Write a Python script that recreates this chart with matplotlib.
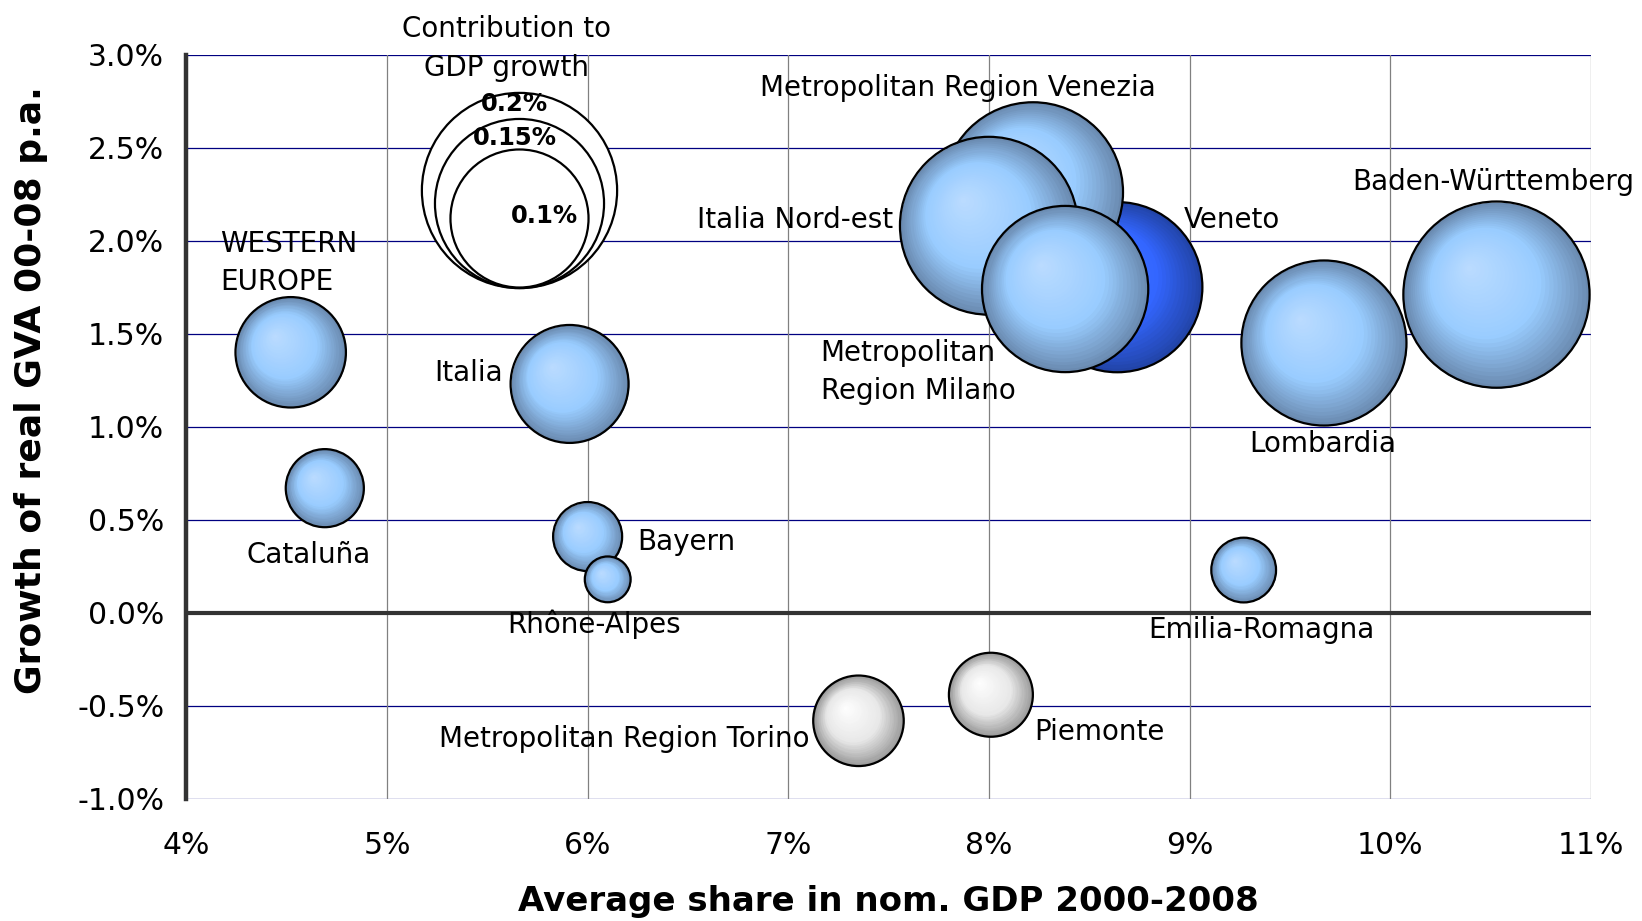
import numpy as np
import matplotlib
matplotlib.use("Agg")
import matplotlib.pyplot as plt
from matplotlib.transforms import offset_copy
from matplotlib.colors import to_rgb

# 지역별 데이터: 평균 GDP 비중(x), 실질 GVA 성장률(y), 성장 기여도(버블 크기)
regions = ["WESTERN\nEUROPE", "Cataluña", "Italia", "Bayern", "Rhône-Alpes",
           "Metropolitan Region Torino", "Piemonte", "Veneto",
           "Metropolitan Region Venezia", "Italia Nord-est",
           "Metropolitan\nRegion Milano", "Emilia-Romagna", "Lombardia",
           "Baden-Württemberg"]
share = [4.52, 4.69, 5.91, 6.00, 6.10, 7.35, 8.01, 8.64, 8.22, 8.00, 8.38, 9.27, 9.67, 10.53]
growth = [1.40, 0.67, 1.23, 0.41, 0.18, -0.58, -0.44, 1.75, 2.26, 2.08, 1.74, 0.23, 1.45, 1.71]
contrib = [0.064, 0.032, 0.073, 0.025, 0.011, -0.043, -0.037, 0.152, 0.170, 0.166,
           0.145, 0.022, 0.143, 0.182]
highlight = "Veneto"

legend_sizes = [0.2, 0.15, 0.1]
legend_labels = ["0.2%", "0.15%", "0.1%"]

xticks = [4, 5, 6, 7, 8, 9, 10, 11]
yticks = [-1.0, -0.5, 0.0, 0.5, 1.0, 1.5, 2.0, 2.5, 3.0]

# 라벨 위치 (버블 중심 기준 offset, points)
label_pos = {
    "WESTERN\nEUROPE": (-51, 64, "left", "center"),
    "Cataluña": (-12, -48, "center", "center"),
    "Italia": (-48, 8, "right", "center"),
    "Bayern": (36, -4, "left", "center"),
    "Rhône-Alpes": (-10, -32, "center", "center"),
    "Metropolitan Region Torino": (-35, -13, "right", "center"),
    "Piemonte": (31, -27, "left", "center"),
    "Veneto": (48, 48, "left", "center"),
    "Metropolitan Region Venezia": (-54, 75, "center", "center"),
    "Italia Nord-est": (-69, 4, "right", "center"),
    "Metropolitan\nRegion Milano": (-176, -60, "left", "center"),
    "Emilia-Romagna": (13, -43, "center", "center"),
    "Lombardia": (-1, -73, "center", "center"),
    "Baden-Württemberg": (-104, 81, "left", "center"),
}

fig = plt.figure(figsize=(16.42, 9.21), dpi=100)
ax = fig.add_axes([0.1135, 0.1325, 0.8553, 0.8083])
ax.set_xlim(4, 11)
ax.set_ylim(-1, 3)

R_PER = 49.7 / np.sqrt(0.1)   # 0.1% 버블 반지름(points)
N = 30

light = ("#6a8ab0", "#99ccff", "#bcdcff")
dark = ("#2244a8", "#3366ff", "#4a7bff")
white = ("#9a9a9a", "#e8e8e8", "#ffffff")


def mix(a, b, t):
    a, b = np.array(to_rgb(a)), np.array(to_rgb(b))
    return tuple(a + (b - a) * t)


def bubble(x, y, c, cols, z):
    r = R_PER * np.sqrt(abs(c))
    hx, hy = -0.3 * r, 0.3 * r
    for k in range(N):
        f = 1 - k / N
        t = k / N
        if t < 0.4:
            col = mix(cols[0], cols[1], t / 0.4)
        else:
            col = mix(cols[1], cols[2], (t - 0.4) / 0.6)
        tr = offset_copy(ax.transData, fig=fig, x=(1 - f) * hx, y=(1 - f) * hy, units="points")
        ax.scatter([x], [y], s=(2 * f * r) ** 2, color=col, transform=tr,
                   linewidths=0, zorder=z + k * 1e-4, clip_on=False)
    ax.scatter([x], [y], s=(2 * r) ** 2, facecolors="none", edgecolors="black",
               linewidths=1.6, zorder=z + 0.009, clip_on=False)
    return r


lab_font = dict(fontsize=20, family="DejaVu Sans")
for i, name in enumerate(regions):
    if name == highlight:
        cols = dark
    elif contrib[i] < 0:
        cols = white
    else:
        cols = light
    bubble(share[i], growth[i], contrib[i], cols, 3 + i * 0.01)
    dx, dy, ha, va = label_pos[name]
    ax.annotate(name, xy=(share[i], growth[i]), xytext=(dx, dy), textcoords="offset points",
                ha=ha, va=va, zorder=4, linespacing=1.45, annotation_clip=False, **lab_font)

# 범례 버블 (아래쪽 맞춤)
lx, ly = 5.66, 1.75
leg_off = [(-3.6, -9), (-3.6, -14), (18, 1.5)]
for j, c in enumerate(legend_sizes):
    r = R_PER * np.sqrt(c)
    tr = offset_copy(ax.transData, fig=fig, x=0, y=r, units="points")
    ax.scatter([lx], [ly], s=(2 * r) ** 2, facecolors="white", edgecolors="black",
               linewidths=1.6, transform=tr, zorder=2.5 + j * 0.01, clip_on=False)
    dx, dy = leg_off[j]
    ax.annotate(legend_labels[j], xy=(lx, ly), xytext=(dx, 2 * r + dy if j < 2 else r + dy),
                textcoords="offset points", ha="center", va="center", fontsize=17.5,
                fontweight="bold", zorder=2.6, annotation_clip=False)
ax.annotate("Contribution to\nGDP growth", xy=(lx, ly), xytext=(-9, 172), textcoords="offset points",
            ha="center", va="center", fontsize=20, linespacing=1.5, annotation_clip=False)

# 격자선
for yv in yticks:
    ax.axhline(yv, color="#000080", lw=0.9, zorder=1)
for xv in xticks:
    ax.axvline(xv, color="#808080", lw=0.9, zorder=1)
ax.axhline(0, color="#333333", lw=3, zorder=2)

for s in ["top", "right", "bottom"]:
    ax.spines[s].set_visible(False)
ax.spines["left"].set_color("#333333")
ax.spines["left"].set_linewidth(3.2)

ax.set_xticks(xticks)
ax.set_xticklabels([f"{v}%" for v in xticks])
ax.set_yticks(yticks)
ax.set_yticklabels([f"{v:.1f}%" for v in yticks])
ax.tick_params(length=0, labelsize=21.5)
ax.tick_params(axis="y", pad=16)
ax.tick_params(axis="x", pad=23)

title_font = dict(fontweight="bold", family="DejaVu Sans")
fig.text(0.5413, 0.0217, "Average share in nom. GDP 2000-2008", ha="center", va="center",
         fontsize=24.5, **title_font)
fig.text(0.0189, 0.576, "Growth of real GVA 00-08 p.a.", ha="center", va="center",
         rotation=90, fontsize=26, **title_font)

fig.savefig("out.png", dpi=100)
